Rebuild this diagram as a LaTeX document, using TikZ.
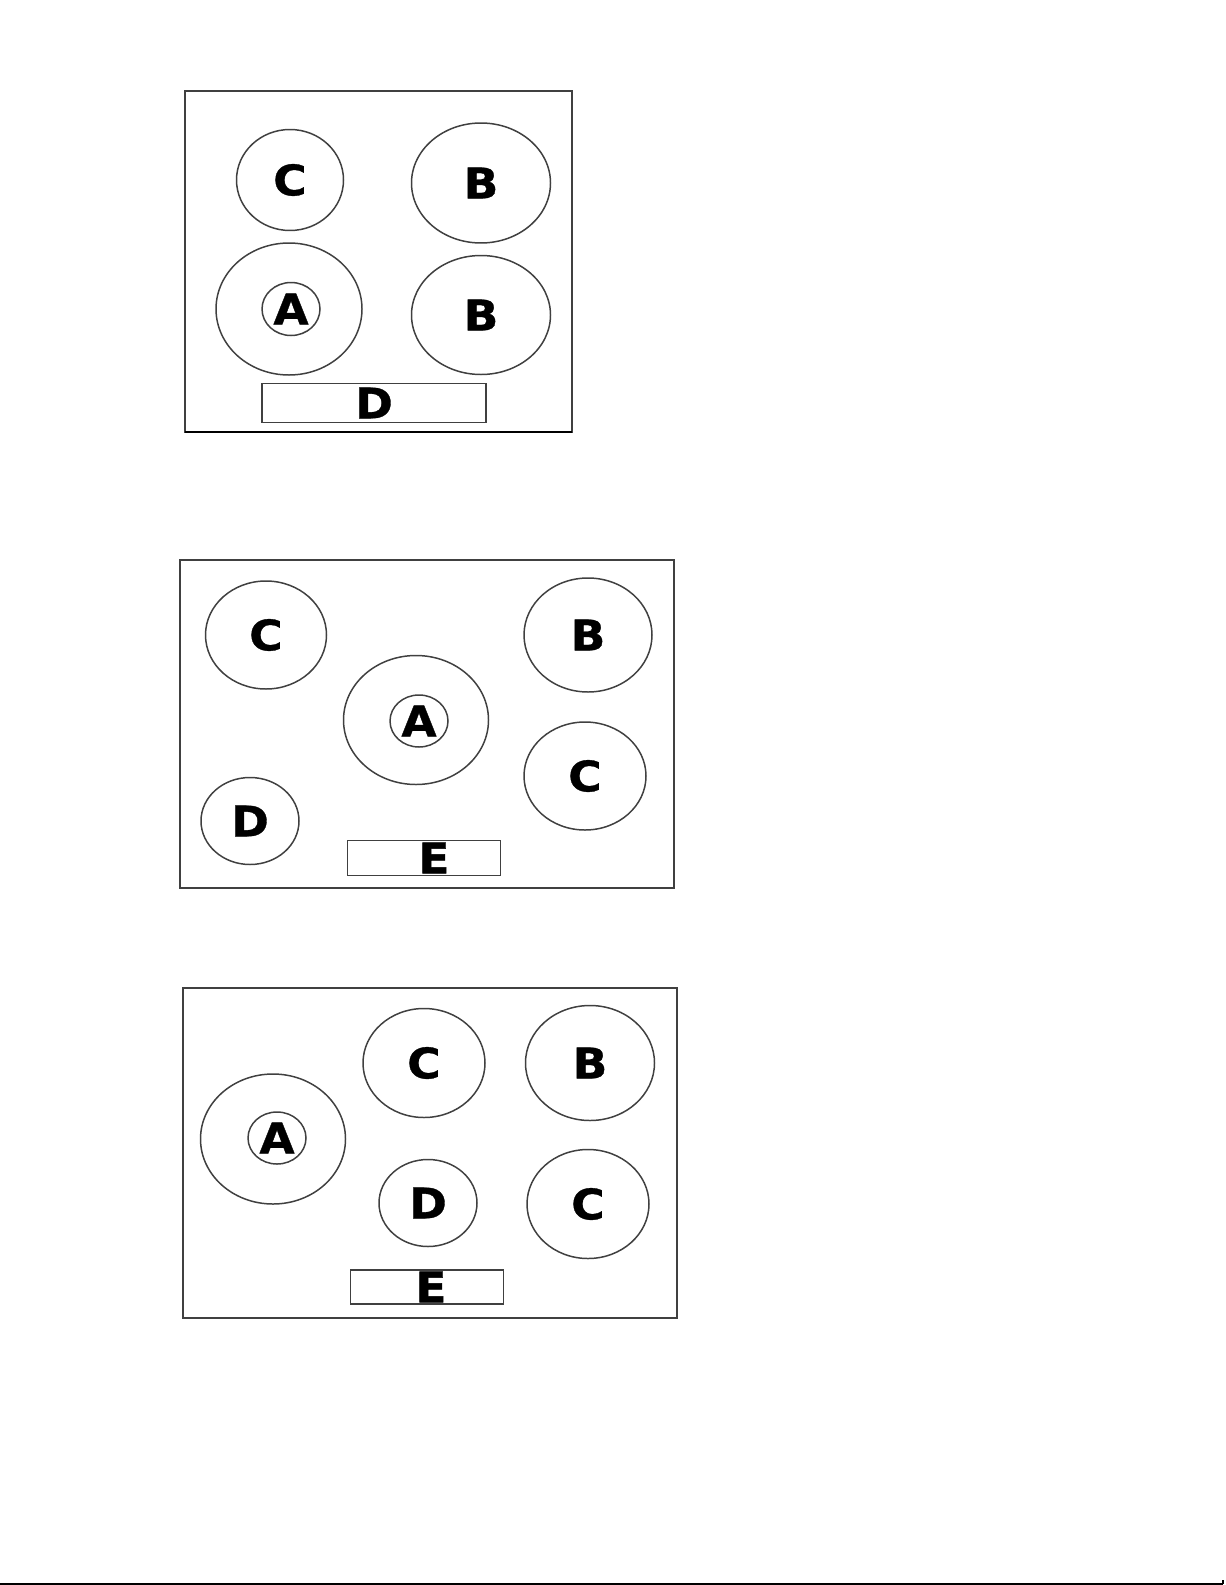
\documentclass[tikz,border=0pt]{standalone}
\usepackage{fontspec}
\newfontfamily\hobfont{DejaVu Sans}[FakeStretch=1.08, FakeBold=0.8]
\usetikzlibrary{shapes.geometric}

\begin{document}
\begin{tikzpicture}[x=0.02cm, y=-0.02cm]
	\tikzset{every node/.style={font=\hobfont\bfseries\fontsize{24}{24}\selectfont, inner sep=0pt},
		hob/.style 2 args={ellipse, draw=black!75, line width=0.85pt, minimum width=#1*0.02cm, minimum height=#2*0.02cm},
		panel/.style 2 args={rectangle, draw=black!75, line width=0.85pt, minimum width=#1*0.02cm, minimum height=#2*0.02cm},
		frame/.style={draw=black!75, line width=0.85pt}}

	\useasboundingbox (0,0) rectangle (1225,1585);

	% first hob
	\draw[frame] (185,91) rectangle (572,432);
	\draw[line width=1.6pt] (185,432) -- (572,432);
	\node[hob={107}{101}]	(C1)	at (290,180)	{C};
	\node[hob={139}{120}]	(B1)	at (481,183)	{B};
	\node[hob={146}{132}]	(A1)	at (289,309)	{};
	\node[hob={58}{53}]	(a1)	at (291,309)	{A};
	\node[hob={139}{119}]	(Bb1)	at (481,315)	{B};
	\node[panel={224}{39}]	(D1)	at (374,403)	{D};

	% second hob
	\draw[frame] (180,560) rectangle (674,888);
	\node[hob={121}{108}]	(C2)	at (266,635)	{C};
	\node[hob={128}{114}]	(B2)	at (588,635)	{B};
	\node[hob={145}{129}]	(A2)	at (416,720)	{};
	\node[hob={58}{52}]	(a2)	at (419,721)	{A};
	\node[hob={122}{108}]	(Cc2)	at (585,776)	{C};
	\node[hob={98}{87}]	(D2)	at (250,821)	{D};
	\node[panel={153}{35}, label={[xshift=0.2cm]center:E}]	(E2)	at (424,858)	{};

	% third hob
	\draw[frame] (183,988) rectangle (677,1318);
	\node[hob={122}{109}]	(C3)	at (424,1063)	{C};
	\node[hob={129}{115}]	(B3)	at (590,1063)	{B};
	\node[hob={145}{130}]	(A3)	at (273,1139)	{};
	\node[hob={58}{52}]	(a3)	at (277,1138)	{A};
	\node[hob={98}{87}]	(D3)	at (428,1203)	{D};
	\node[hob={122}{109}]	(Cc3)	at (588,1204)	{C};
	\node[panel={153}{34}, label={[xshift=0.08cm]center:E}]	(E3)	at (427,1287)	{};

	% page rule
	\draw[line width=1.1pt] (0,1584) -- (1223,1584);
	\draw[line width=0.6pt] (1223,1584) -- (1223,1580);
\end{tikzpicture}
\end{document}
